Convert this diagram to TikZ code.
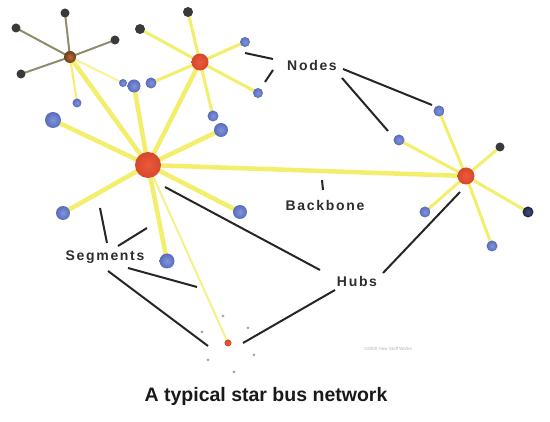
\documentclass[tikz,border=0pt]{standalone}
\usepackage{fontspec}
\setmainfont{Liberation Sans}
\newfontfamily\labfont[LetterSpace=12]{Liberation Sans}
\pgfdeclarelayer{bg}
\pgfsetlayers{bg,main}
\definecolor{spoke}{HTML}{F3EE6C}
\definecolor{bluedot}{HTML}{6A80D8}
\definecolor{hubred}{HTML}{EC5030}
\definecolor{darkdot}{HTML}{3A3A3A}
\definecolor{labcol}{HTML}{2E2E2E}
\tikzset{
  dot/.style={circle,inner sep=0pt,minimum size=#1},
  bdot/.style={dot=#1,inner color=bluedot!85!white,outer color=bluedot!85!black},
  kdot/.style={dot=#1,fill=darkdot},
  hub/.style={dot=#1,inner color=hubred!95!white,outer color=hubred!90!black},
  spk/.style={draw=spoke,line width=4.5pt,line cap=round},
  thinspk/.style={draw=spoke,line width=2pt,line cap=round},
  grayspk/.style={draw=gray!75!olive,line width=2pt},
  tiny/.style={dot=3pt,fill=gray!70},
  lab/.style={font=\labfont\bfseries\fontsize{14}{16}\selectfont,text=labcol,inner sep=1pt},
  pointer/.style={draw=black!85,line width=2pt},
}
\begin{document}
\begin{tikzpicture}[x=1pt,y=-1pt]
\useasboundingbox (0,0) rectangle (550,422);
% hubs
\node[hub=26pt] (H) at (148,165) {};
\node[hub=17pt] (TM) at (200,62) {};
\node[dot=12pt,inner color=brown!80!red,outer color=brown!50!black] (TL) at (70,57) {};
\node[hub=17pt] (R) at (466,176) {};
\node[hub=7pt] (B) at (228,343) {};
% top-left hub leaves
\node[kdot=9pt] (tl1) at (65,13) {};
\node[kdot=9pt] (tl2) at (16,28) {};
\node[kdot=9pt] (tl3) at (115,40) {};
\node[kdot=9pt] (tl4) at (21,74) {};
\node[bdot=9pt] (tl5) at (77,103) {};
\node[bdot=8pt] (tl6) at (123,83) {};
% top-middle hub leaves
\node[kdot=10pt] (tm1) at (188,12) {};
\node[kdot=10pt] (tm2) at (140,29) {};
\node[bdot=10pt] (tm3) at (245,42) {};
\node[bdot=10pt] (tm4) at (258,93) {};
\node[bdot=11pt] (tm5) at (213,116) {};
\node[bdot=11pt] (tm6) at (151,83) {};
% main hub leaves
\node[bdot=16pt] (h1) at (53,120) {};
\node[bdot=14pt] (h2) at (63,213) {};
\node[bdot=14pt] (h3) at (240,212) {};
\node[bdot=15pt] (h4) at (167,261) {};
\node[bdot=14pt] (h5) at (221,130) {};
\node[bdot=13pt] (h6) at (134,86) {};
% right hub leaves
\node[bdot=11pt] (r1) at (439,111) {};
\node[bdot=11pt] (r2) at (399,140) {};
\node[bdot=11pt] (r3) at (425,212) {};
\node[dot=11pt,inner color=bluedot!60!black,outer color=bluedot!30!black] (r4) at (528,212) {};
\node[kdot=9pt] (r5) at (500,147) {};
\node[bdot=11pt] (r6) at (492,246) {};
% bottom hub leaves
\node[tiny] (b1) at (223,316) {};
\node[tiny] (b2) at (202,332) {};
\node[tiny] (b3) at (248,328) {};
\node[tiny] (b4) at (208,360) {};
\node[tiny] (b5) at (254,355) {};
\node[tiny] (b6) at (234,372) {};
\begin{pgfonlayer}{bg}
\fill[white] (0,0) rectangle (550,422);
\foreach \n in {tl1,tl2,tl3,tl4} \draw[grayspk] (TL.center) -- (\n.center);
\draw[thinspk] (TL.center) -- (tl5.center);
\draw[thinspk,spoke!70] (TL.center) -- (tl6.center);
\draw[spk] (TL.center) -- (H.center);
\foreach \n in {tm1,tm2,tm3,tm4,tm5,tm6} \draw[thinspk,line width=3pt] (TM.center) -- (\n.center);
\draw[spk] (TM.center) -- (H.center);
\foreach \n in {h1,h2,h3,h4,h5,h6} \draw[spk] (H.center) -- (\n.center);
\draw[spk] (H.center) -- (R.center);
\draw[draw=spoke!80,line width=2pt] (H.center) -- (B.center);
\foreach \n in {r1,r2,r3,r4,r5,r6} \draw[thinspk,line width=3pt] (R.center) -- (\n.center);
\end{pgfonlayer}
% labels
\node[lab] (LN) at (312,65) {Nodes};
\node[lab] (LB) at (325,205) {Backbone};
\node[lab] (LS) at (105,257) {Segments};
\node[lab] (LH) at (357,281) {Hubs};
% pointer coordinates
\coordinate (n1a) at (343,69); \coordinate (n1b) at (432,105);
\coordinate (n2a) at (342,78); \coordinate (n2b) at (388,131);
\coordinate (n3a) at (245,53); \coordinate (n3b) at (273,59);
\coordinate (n4a) at (265,82); \coordinate (n4b) at (273,70);
\coordinate (bk1) at (322,180); \coordinate (bk2) at (323,190);
\coordinate (s1a) at (100,208); \coordinate (s1b) at (107,243);
\coordinate (s2a) at (118,246); \coordinate (s2b) at (147,228);
\coordinate (s3a) at (128,268); \coordinate (s3b) at (197,287);
\coordinate (s4a) at (108,271); \coordinate (s4b) at (208,346);
\coordinate (hb1a) at (165,187); \coordinate (hb1b) at (320,270);
\coordinate (hb2a) at (383,273); \coordinate (hb2b) at (460,192);
\coordinate (hb3a) at (335,290); \coordinate (hb3b) at (243,343);
\foreach \a/\b in {n1a/n1b,n2a/n2b,n3a/n3b,n4a/n4b,bk1/bk2,s1a/s1b,s2a/s2b,s3a/s3b,s4a/s4b,hb1a/hb1b,hb2a/hb2b,hb3a/hb3b}
  \draw[pointer] (\a) -- (\b);
% watermark
\node[font=\fontsize{4.5}{5}\selectfont,text=gray!60,inner sep=0pt] (wm) at (388,349) {\textcopyright 2000 How Stuff Works};
% title
\node[font=\bfseries\fontsize{19.5}{22}\selectfont,text=black!90,inner sep=0pt] (title) at (266,396) {A typical star bus network};
\end{tikzpicture}
\end{document}
